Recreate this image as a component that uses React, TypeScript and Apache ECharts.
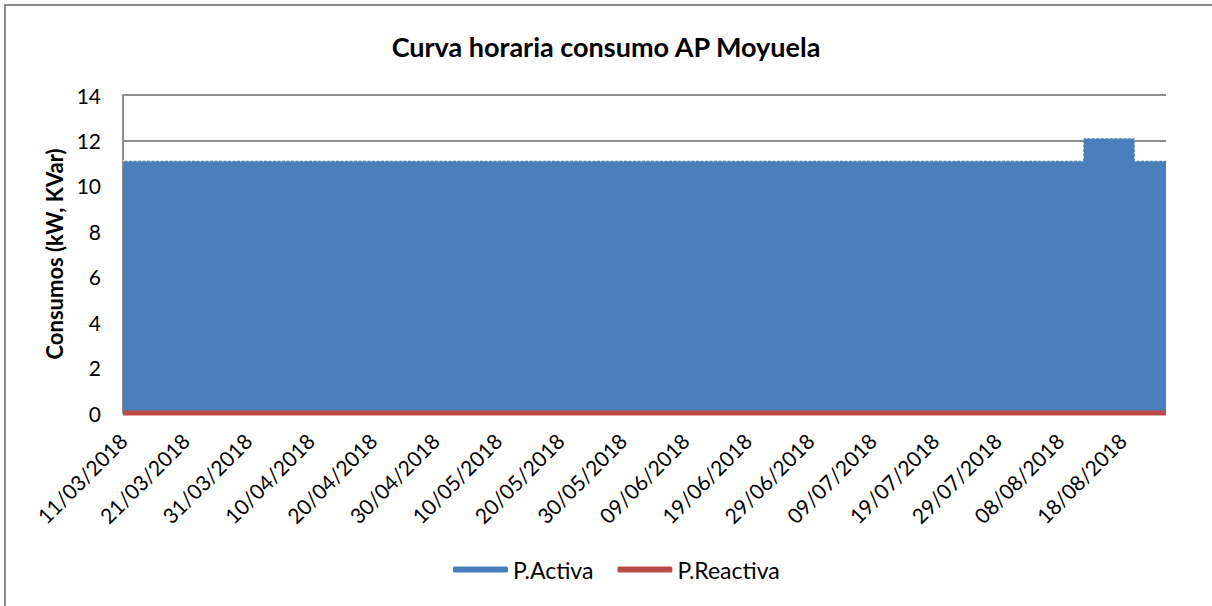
import React, { useEffect, useRef } from "react";
import * as echarts from "echarts";

// ---- Data ----
const START_DATE = "2018-03-11T00:00";
const END_DATE = "2018-08-25T00:00";

// P.Activa: value holds from each date until the next one (hourly curve, step changes)
const activaDates = ["2018-03-11T00:00", "2018-08-11T18:00", "2018-08-20T00:00", "2018-08-25T00:00"];
const activaValues = [11.1, 12.1, 11.1, 11.1];

// P.Reactiva: zero over the whole period
const reactivaDates = ["2018-03-11T00:00", "2018-08-25T00:00"];
const reactivaValues = [0, 0];

// X tick labels (every 10 days from start)
const xTickLabels = [
  "11/03/2018", "21/03/2018", "31/03/2018", "10/04/2018", "20/04/2018", "30/04/2018",
  "10/05/2018", "20/05/2018", "30/05/2018", "09/06/2018", "19/06/2018", "29/06/2018",
  "09/07/2018", "19/07/2018", "29/07/2018", "08/08/2018", "18/08/2018",
];

const TITLE = "Curva horaria consumo AP Moyuela";
const Y_NAME = "Consumos (kW, KVar)";
const SERIES_NAMES = ["P.Activa", "P.Reactiva"];

const DAY_MS = 86400000;
const startMs = Date.parse(START_DATE + "Z");
const toDay = (s: string) => (Date.parse(s + "Z") - startMs) / DAY_MS;

const FONT = "Lato";

export default function App() {
  const ref = useRef<HTMLDivElement>(null);

  useEffect(() => {
    if (!ref.current) return;
    const chart = echarts.init(ref.current, undefined, { renderer: "svg" });
    const activaData = activaDates.map((d, i) => [toDay(d), activaValues[i]]);
    const reactivaData = reactivaDates.map((d, i) => [toDay(d), reactivaValues[i]]);

    chart.setOption({
      animation: false,
      backgroundColor: "#ffffff",
      textStyle: { fontFamily: FONT, color: "#000" },
      title: {
        text: TITLE,
        left: "center",
        top: 28,
        textStyle: { fontFamily: FONT, fontWeight: "bold", fontSize: 27, color: "#000" },
      },
      graphic: [
        {
          type: "rect",
          shape: { x: 5, y: 5, width: 1400, height: 800 },
          style: { fill: "none", stroke: "#8a8a8a", lineWidth: 2 },
          silent: true,
        },
      ],
      legend: {
        bottom: 20,
        left: 448,
        icon: "roundRect",
        itemWidth: 55,
        itemHeight: 6,
        itemGap: 24,
        textStyle: { fontFamily: FONT, fontSize: 23, color: "#000" },
        data: SERIES_NAMES,
      },
      grid: { left: 123, right: 46, top: 95, bottom: 193, containLabel: false },
      xAxis: {
        type: "value",
        min: 0,
        max: toDay(END_DATE),
        interval: 10,
        axisLine: { show: false },
        axisTick: { show: false },
        splitLine: { show: false },
        axisLabel: {
          rotate: 45,
          margin: 24,
          fontFamily: FONT,
          fontSize: 21,
          color: "#000",
          showMaxLabel: false,
          formatter: (v: number) => {
            const i = Math.round(v / 10);
            return Math.abs(v - i * 10) < 1e-6 && xTickLabels[i] ? xTickLabels[i] : "";
          },
        },
      },
      yAxis: {
        type: "value",
        min: 0,
        max: 14,
        interval: 2,
        name: Y_NAME,
        nameLocation: "middle",
        nameRotate: 90,
        nameGap: 57,
        nameTextStyle: { fontFamily: FONT, fontWeight: "bold", fontSize: 22, color: "#000" },
        axisLine: { show: true, lineStyle: { color: "#8e8e8e", width: 2 } },
        axisTick: { show: false },
        splitLine: { show: true, lineStyle: { color: "#8e8e8e", width: 2 } },
        axisLabel: { margin: 22, fontFamily: FONT, fontSize: 21, color: "#000" },
      },
      series: [
        {
          name: SERIES_NAMES[0],
          type: "line",
          step: "end",
          data: activaData,
          showSymbol: false,
          itemStyle: { color: "#4a7ebb" },
          lineStyle: { color: "#ffffff", width: 1.2, type: [1.5, 3] },
          areaStyle: { color: "#4a7ebb", opacity: 1 },
        },
        {
          name: SERIES_NAMES[1],
          type: "line",
          data: reactivaData,
          showSymbol: false,
          clip: false,
          itemStyle: { color: "#be4b48" },
          lineStyle: { color: "#be4b48", width: 5 },
        },
      ],
    });
    return () => chart.dispose();
  }, []);

  return (
    <div
      ref={ref}
      style={{ position: "absolute", left: 0, top: 0, width: 1212, height: 606 }}
    />
  );
}
